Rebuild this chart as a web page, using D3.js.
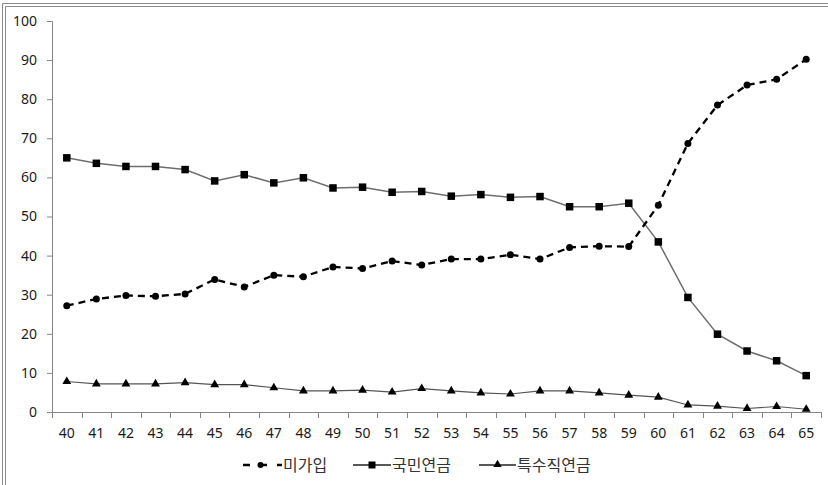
<!DOCTYPE html>
<html>
<head>
<meta charset="utf-8">
<script src="https://cdn.jsdelivr.net/npm/d3@7"></script>
<style>
  html, body { margin: 0; padding: 0; background: #fff; }
  svg { display: block; }
  text { font-family: "Noto Sans", "Noto Sans CJK KR", sans-serif; }
</style>
</head>
<body>
<svg id="chart" width="828" height="485"></svg>
<script>
const ages = ["40","41","42","43","44","45","46","47","48","49","50","51","52","53","54","55","56","57","58","59","60","61","62","63","64","65"];
const notJoined = [27.2,28.9,29.8,29.6,30.2,33.9,32.0,35.0,34.6,37.1,36.7,38.6,37.6,39.1,39.1,40.2,39.1,42.1,42.4,42.3,52.9,68.7,78.5,83.6,85.1,90.2];
const nationalPension = [65.0,63.6,62.8,62.8,62.0,59.1,60.7,58.6,59.9,57.3,57.5,56.2,56.4,55.2,55.6,54.9,55.1,52.5,52.5,53.4,43.5,29.3,19.9,15.6,13.1,9.3];
const specialPension = [7.8,7.2,7.2,7.2,7.5,7.0,7.0,6.2,5.4,5.4,5.6,5.1,6.0,5.4,4.9,4.6,5.4,5.4,4.9,4.3,3.8,1.8,1.5,0.9,1.4,0.7];
const yTicks = [0,10,20,30,40,50,60,70,80,90,100];
const seriesNames = ["미가입","국민연금","특수직연금"];

(function () {
const svg = d3.select("#chart");
const mLeft = 52, mRight = 821, mTop = 21, mBottom = 412;

// frame (double line on top and left)
const frame = svg.append("g").attr("stroke", "#8a8a8a").attr("fill", "none").attr("stroke-width", 1);
frame.append("path").attr("d", "M2.5,485V3.5H828");
frame.append("path").attr("d", "M5.5,485V6.5H828");

const x = d3.scaleBand().domain(ages).range([mLeft, mRight]);
const y = d3.scaleLinear().domain([0, 100]).range([mBottom, mTop]);
const cx = d => x(d) + x.bandwidth() / 2;

// y axis
const yAxis = svg.append("g").attr("transform", `translate(${mLeft},0)`)
  .call(d3.axisLeft(y).tickValues(yTicks).tickSize(5).tickPadding(10));
yAxis.select(".domain").attr("stroke", "#868686");
yAxis.selectAll(".tick line").attr("stroke", "#868686");
yAxis.selectAll("text").attr("font-size", 14).attr("fill", "#1a1a1a");

// x axis
const xAxis = svg.append("g").attr("transform", `translate(0,${mBottom})`)
  .call(d3.axisBottom(x).tickSize(0).tickPadding(16));
xAxis.select(".domain").attr("stroke", "#868686").attr("d", `M${mLeft},0.5H${mRight}`);
xAxis.selectAll("text").attr("font-size", 14).attr("fill", "#1a1a1a");
const bounds = ages.map(a => x(a)).concat([mRight]);
xAxis.selectAll("line.bt").data(bounds).enter().append("line")
  .attr("class", "bt")
  .attr("x1", d => Math.round(d) + 0.5).attr("x2", d => Math.round(d) + 0.5)
  .attr("y1", 0).attr("y2", 6).attr("stroke", "#868686");

// lines
const lineGen = vals => d3.line().x((d, i) => cx(ages[i])).y(d => y(d))(vals);

svg.append("path").attr("d", lineGen(specialPension))
  .attr("fill", "none").attr("stroke", "#555").attr("stroke-width", 1.2);
svg.append("path").attr("d", lineGen(nationalPension))
  .attr("fill", "none").attr("stroke", "#6e6e6e").attr("stroke-width", 1.5);
svg.append("path").attr("d", lineGen(notJoined))
  .attr("fill", "none").attr("stroke", "#000").attr("stroke-width", 2.3)
  .attr("stroke-dasharray", "7,5");

// markers
const tri = d3.symbol().type(d3.symbolTriangle).size(34);
svg.append("g").selectAll("path").data(specialPension).enter().append("path")
  .attr("d", tri).attr("transform", (d, i) => `translate(${cx(ages[i])},${y(d)})`)
  .attr("fill", "#000");
svg.append("g").selectAll("rect").data(nationalPension).enter().append("rect")
  .attr("x", (d, i) => cx(ages[i]) - 3.75).attr("y", d => y(d) - 3.75)
  .attr("width", 7.5).attr("height", 7.5).attr("fill", "#000");
svg.append("g").selectAll("circle").data(notJoined).enter().append("circle")
  .attr("cx", (d, i) => cx(ages[i])).attr("cy", d => y(d)).attr("r", 3.5)
  .attr("fill", "#000");

// legend
const ly = 465;
const lg = svg.append("g");
// 미가입
lg.append("line").attr("x1", 243).attr("x2", 282).attr("y1", ly).attr("y2", ly)
  .attr("stroke", "#000").attr("stroke-width", 2.3).attr("stroke-dasharray", "7,10");
lg.append("circle").attr("cx", 260.5).attr("cy", ly).attr("r", 3).attr("fill", "#000");
lg.append("text").attr("x", 283).attr("y", ly).attr("dy", "0.36em").attr("font-size", 16)
  .attr("fill", "#333").attr("font-family", "'Noto Sans CJK KR', sans-serif").text(seriesNames[0]);
// 국민연금
lg.append("line").attr("x1", 353).attr("x2", 391).attr("y1", ly).attr("y2", ly)
  .attr("stroke", "#222").attr("stroke-width", 1.3);
lg.append("rect").attr("x", 368.5).attr("y", ly - 3.5).attr("width", 7).attr("height", 7).attr("fill", "#000");
lg.append("text").attr("x", 392).attr("y", ly).attr("dy", "0.36em").attr("font-size", 16)
  .attr("fill", "#333").attr("font-family", "'Noto Sans CJK KR', sans-serif").text(seriesNames[1]);
// 특수직연금
lg.append("line").attr("x1", 479).attr("x2", 516).attr("y1", ly).attr("y2", ly)
  .attr("stroke", "#222").attr("stroke-width", 1.3);
lg.append("path").attr("d", d3.symbol().type(d3.symbolTriangle).size(30))
  .attr("transform", `translate(497.5,${ly - 0.5})`).attr("fill", "#000");
lg.append("text").attr("x", 517).attr("y", ly).attr("dy", "0.36em").attr("font-size", 16)
  .attr("fill", "#333").attr("font-family", "'Noto Sans CJK KR', sans-serif").text(seriesNames[2]);
})();
</script>
</body>
</html>
